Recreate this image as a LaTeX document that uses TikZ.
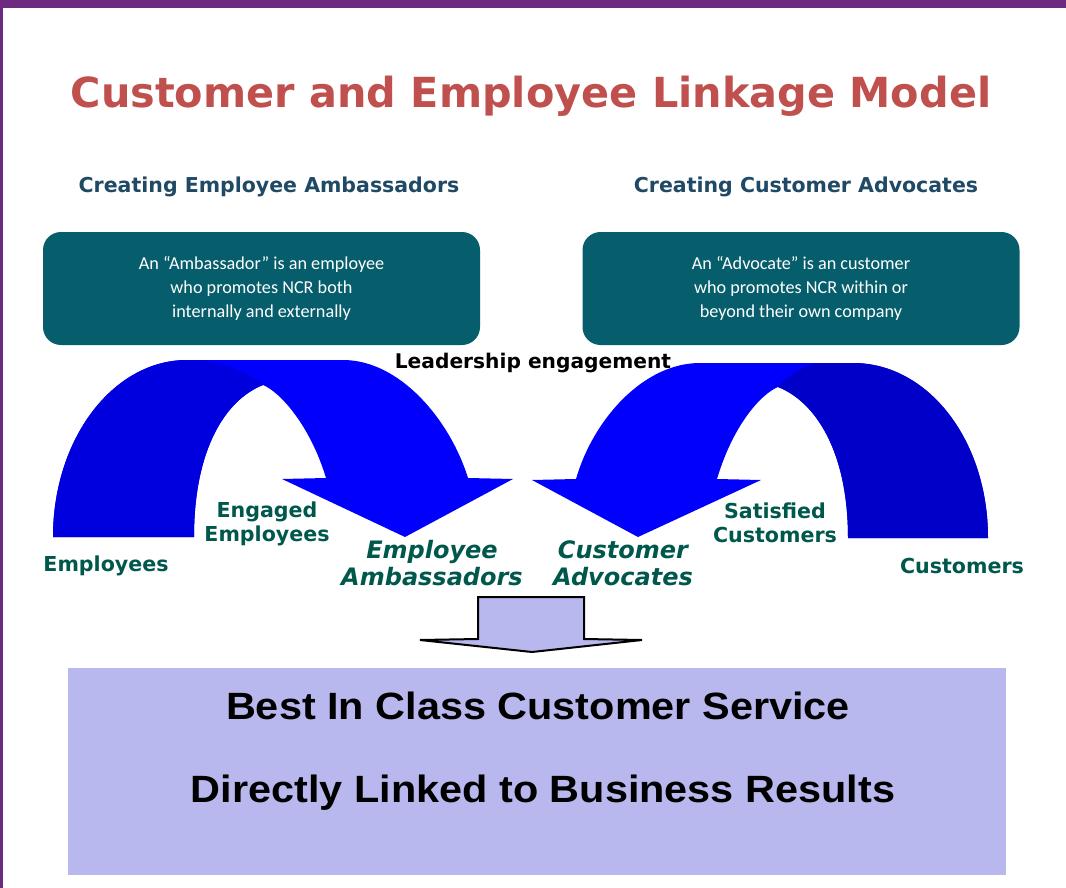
\documentclass[tikz,border=0pt]{standalone}
\usepackage{fontspec}
\newfontfamily\verd{DejaVu Sans}
\newfontfamily\arialw{Liberation Sans}[FakeStretch=1.09]
\newfontfamily\calib{Carlito}
\definecolor{purp}{RGB}{108,42,128}
\definecolor{titlered}{RGB}{192,80,77}
\definecolor{subblue}{RGB}{31,73,100}
\definecolor{teal}{RGB}{6,94,108}
\definecolor{lblgreen}{RGB}{0,88,76}
\definecolor{brightblue}{RGB}{0,0,252}
\definecolor{darkblueL}{RGB}{0,0,222}
\definecolor{darkblueR}{RGB}{0,0,200}
\definecolor{lav}{RGB}{184,184,238}
\tikzset{
  txt/.style={inner sep=0pt, align=center},
  lbl/.style={txt, text=lblgreen, font=\verd\bfseries\fontsize{20.6}{24}\selectfont},
  biglbl/.style={txt, text=lblgreen, font=\verd\bfseries\itshape\fontsize{24}{27}\selectfont},
  subt/.style={txt, text=subblue, font=\verd\bfseries\fontsize{20.5}{24}\selectfont},
  defbox/.style={rounded corners=18pt, fill=teal, minimum width=437pt, minimum height=113pt,
     text=white, align=center, font=\calib\fontsize{18.2}{24}\selectfont, inner sep=0pt},
  bottomtxt/.style={inner sep=0pt, anchor=base, font=\arialw\bfseries\fontsize{38}{42}\selectfont}
}
\begin{document}
\begin{tikzpicture}[x=1pt,y=-1pt]
\useasboundingbox (0,0) rectangle (1066,888);
\fill[white] (0,0) rectangle (1066,888);
\fill[purp] (0,0) rectangle (1066,8);
\fill[purp] (0,0) rectangle (3,888);

\node[txt, text=titlered, font=\verd\bfseries\fontsize{41.4}{46}\selectfont] (title) at (531,96) {Customer and Employee Linkage Model};
\node[subt] (sub1) at (269,187) {Creating Employee Ambassadors};
\node[subt] (sub2) at (806,187) {Creating Customer Advocates};

\node[defbox] (box1) at (261.5,288.5) {An “Ambassador” is an employee\\who promotes NCR both\\internally and externally};
\node[defbox] (box2) at (801,288.5) {An “Advocate” is an customer\\who promotes NCR within or\\beyond their own company};

% left curved arrow
\fill[brightblue] (53,537) .. controls (53,439) and (113,360) .. (187,360) -- (343,360)
  .. controls (400,360) and (450,420) .. (468,478) -- (513,479) -- (405,537) -- (282,479) -- (326,478)
  .. controls (310,425) and (280,392) .. (263,385) .. controls (225,400) and (194,450) .. (194,537) -- cycle;
\fill[darkblueL] (53,537) .. controls (53,439) and (113,360) .. (187,360) -- (200,360)
  .. controls (230,364) and (250,374) .. (263,385) .. controls (225,400) and (194,450) .. (194,537) -- cycle;

% right curved arrow (mirror)
\begin{scope}[shift={(1043,0)}, xscale=-1]
\fill[brightblue] (55,538) .. controls (55,440) and (115,363) .. (190,363) -- (343,363)
  .. controls (400,363) and (450,420) .. (467,479) -- (511,480) -- (405,537) -- (282,480) -- (326,479)
  .. controls (310,425) and (282,394) .. (265,387) .. controls (227,402) and (195,452) .. (195,538) -- cycle;
\fill[darkblueR] (55,538) .. controls (55,440) and (115,363) .. (190,363) -- (225,363)
  .. controls (245,368) and (257,378) .. (265,387) .. controls (227,402) and (195,452) .. (195,538) -- cycle;
\end{scope}

\node[txt, font=\verd\bfseries\fontsize{20.2}{24}\selectfont] (lead) at (533,363) {Leadership engagement};

\node[lbl] (emp) at (106,566) {Employees};
\node[lbl] (eng) at (267,524) {Engaged\\Employees};
\node[biglbl] (amb) at (432,563) {Employee\\Ambassadors};
\node[biglbl] (adv) at (623,563) {Customer\\Advocates};
\node[lbl] (sat) at (775,523) {Satisfied\\Customers};
\node[lbl] (cust) at (962,566) {Customers};

% down arrow
\filldraw[fill=lav, draw=black, line width=2pt, line join=miter]
  (478,597) -- (584,597) -- (584,639) -- (642,640) -- (532,652) -- (420,640) -- (478,639) -- cycle;

% bottom box
\node[fill=lav, minimum width=938pt, minimum height=207pt, inner sep=0pt] (result) at (537,771.5) {};
\node[bottomtxt] (r1) at (538,719) {Best In Class Customer Service};
\node[bottomtxt] (r2) at (543,802) {Directly Linked to Business Results};
\end{tikzpicture}
\end{document}
